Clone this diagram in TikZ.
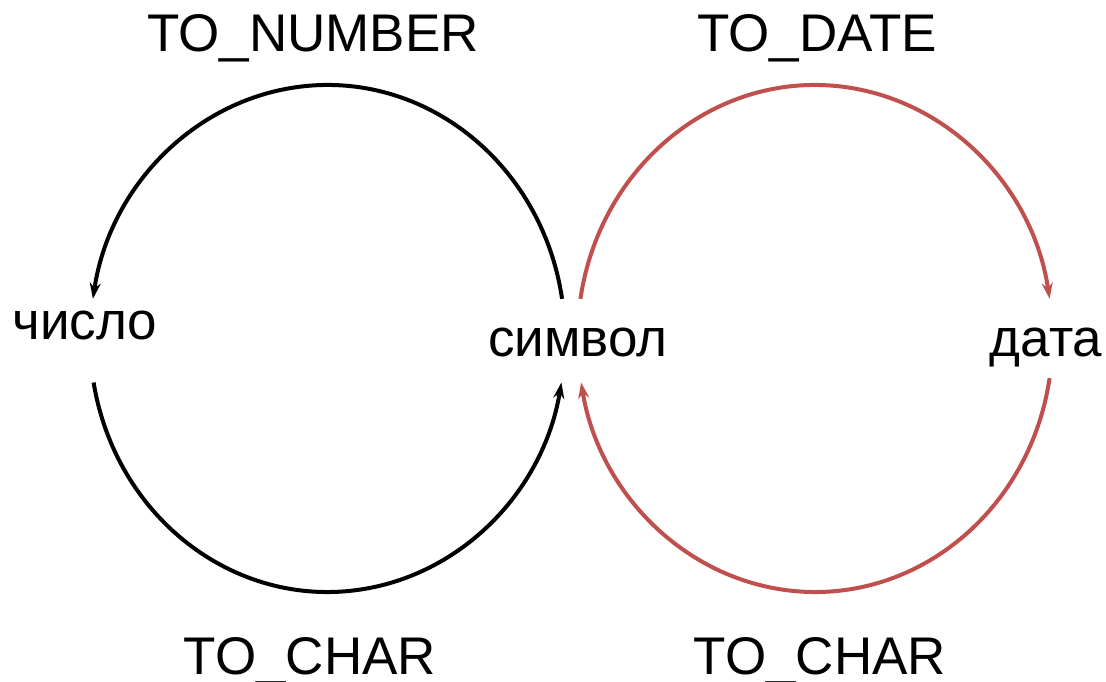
\documentclass[tikz,border=0pt]{standalone}
\usepackage{fontspec}
\setmainfont{Liberation Sans}
\usetikzlibrary{arrows.meta}
\definecolor{arcred}{RGB}{192,80,77}
\tikzset{
  lbl/.style={inner sep=0pt, anchor=base, font=\fontsize{53}{60}\selectfont},
  conn/.style={line width=4pt, -{Stealth[length=16pt,width=11pt]}},
}
\begin{document}
\begin{tikzpicture}[x=1pt,y=1pt]
\useasboundingbox (0,0) rectangle (1106,682);
% labels
\node[lbl] (tonum)  at (313,630) {TO\_NUMBER};
\node[lbl] (todate) at (817,630) {TO\_DATE};
\node[lbl] (tochl)  at (310,7)   {TO\_CHAR};
\node[lbl] (tochr)  at (820,7)   {TO\_CHAR};
\node[lbl] (num)    at (85,342)  {число};
\node[lbl] (sym)    at (578,325) {символ};
\node[lbl] (dat)    at (1046,325) {дата};
% arc end points
\coordinate (lc) at (327.5,343.5);
\coordinate (rc) at (815,343.5);
\path (lc) ++(9:237.5 and 253.5) coordinate (a1);
\path (lc) ++(190:237.5 and 253.5) coordinate (a2);
\path (rc) ++(171:237.5 and 253.5) coordinate (a3);
\path (rc) ++(-9:237.5 and 253.5) coordinate (a4);
% connectors
\draw[conn] (a1) arc[start angle=9, end angle=171, x radius=237.5, y radius=253.5];
\draw[conn] (a2) arc[start angle=190, end angle=350, x radius=237.5, y radius=253.5];
\draw[conn, arcred] (a3) arc[start angle=171, end angle=9, x radius=237.5, y radius=253.5];
\draw[conn, arcred] (a4) arc[start angle=-9, end angle=-170, x radius=237.5, y radius=253.5];
\end{tikzpicture}
\end{document}
